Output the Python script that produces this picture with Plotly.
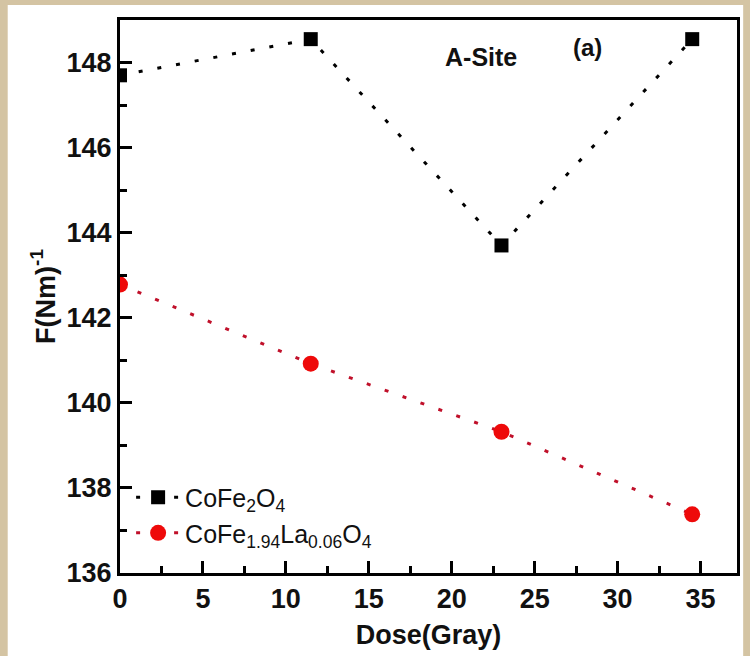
import plotly.graph_objects as go

# Gamma dose (Gray) and force constant F (N/m) for the A-site band
dose = [0, 11.5, 23, 34.5]
f_cofe2o4 = [147.7, 148.55, 143.7, 148.55]
f_cofela = [142.78, 140.92, 139.32, 137.38]

series_names = ["CoFe<sub>2</sub>O<sub>4</sub>",
                "CoFe<sub>1.94</sub>La<sub>0.06</sub>O<sub>4</sub>"]

x_ticks = [0, 5, 10, 15, 20, 25, 30, 35]
y_ticks = [136, 138, 140, 142, 144, 146, 148]

FONT = "Liberation Sans, Arial, sans-serif"

fig = go.Figure()
fig.add_trace(go.Scatter(
    x=dose, y=f_cofe2o4, name=series_names[0], mode="lines+markers",
    line=dict(color="#000000", width=3, dash="4px,15px"),
    marker=dict(symbol="square", size=14, color="#000000"),
    cliponaxis=True,
))
fig.add_trace(go.Scatter(
    x=dose, y=f_cofela, name=series_names[1], mode="lines+markers",
    line=dict(color="#c0102a", width=3, dash="4px,15px"),
    marker=dict(symbol="circle", size=16, color="#ee0a0a"),
    cliponaxis=True,
))

axis_common = dict(
    showline=True, linecolor="#000000", linewidth=3, mirror=True,
    ticks="inside", ticklen=12, tickwidth=3, tickcolor="#000000",
    showgrid=False, zeroline=False,
    tickfont=dict(family=FONT, size=27, color="#111111", weight="bold"),
)

fig.update_xaxes(
    range=[0, 37.2], tickvals=x_ticks,
    minor=dict(ticks="inside", ticklen=7, tickwidth=3, tickcolor="#000000", dtick=2.5, tick0=0),
    title=dict(text="<b>Dose(Gray)</b>", font=dict(family=FONT, size=27, color="#111111"), standoff=12),
    **axis_common,
)
fig.update_yaxes(
    range=[136, 149.0], tickvals=y_ticks,
    minor=dict(ticks="inside", ticklen=7, tickwidth=3, tickcolor="#000000", dtick=1, tick0=136),
    title=dict(text="<b>F(Nm)<sup>-1</sup></b>", font=dict(family=FONT, size=27, color="#111111"), standoff=4),
    **axis_common,
)

# White sheet behind the whole chart, on a beige surround
fig.add_shape(type="rect", xref="paper", yref="paper",
              x0=-0.182, x1=1.01, y0=-0.2, y1=1.027,
              fillcolor="#ffffff", line=dict(width=0), layer="below")

fig.add_annotation(x=0.585, y=0.962, xref="paper", yref="paper", text="<b>A-Site</b>",
                   showarrow=False, font=dict(family=FONT, size=25, color="#111111"))
fig.add_annotation(x=0.784, y=0.979, xref="paper", yref="paper", text="<b>(a)</b>",
                   showarrow=False, font=dict(family=FONT, size=24, color="#111111"))

fig.update_layout(
    width=750, height=656,
    margin=dict(l=120, r=10, t=20, b=83),
    paper_bgcolor="#d4c4a3", plot_bgcolor="#ffffff",
    showlegend=True,
    legend=dict(x=0.018, y=0.178, xanchor="left", yanchor="top",
                bgcolor="rgba(0,0,0,0)", borderwidth=0,
                font=dict(family=FONT, size=25, color="#111111"),
                itemwidth=44, tracegroupgap=6),
)

fig.write_html("out.html")
